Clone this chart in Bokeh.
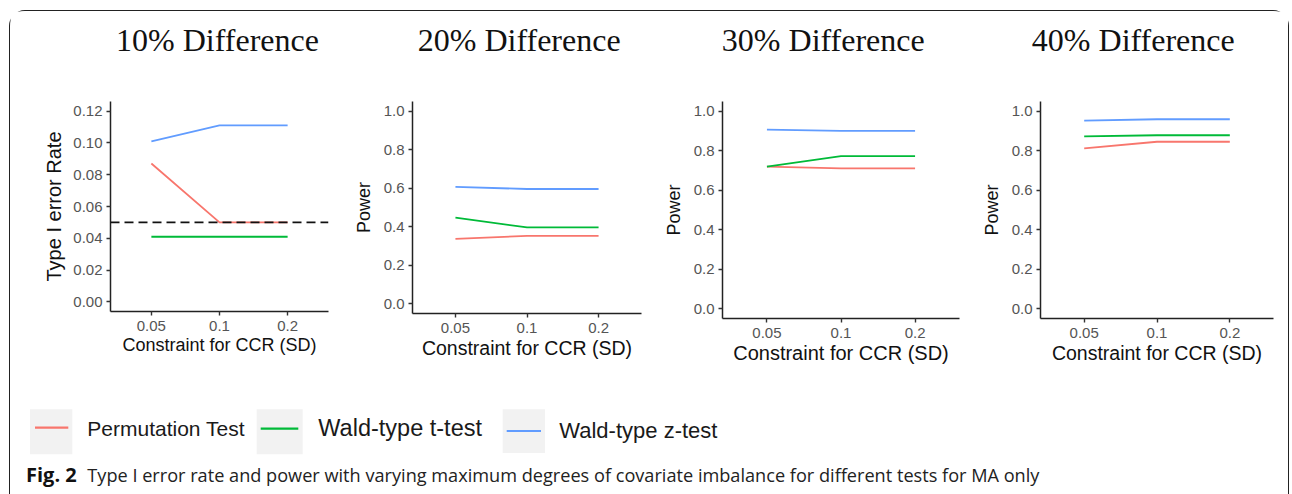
from bokeh.plotting import figure
from bokeh.layouts import row, column
from bokeh.models import Span, FixedTicker, Range1d, ColumnDataSource, NumeralTickFormatter
from bokeh.embed import file_html
from bokeh.resources import INLINE
from bokeh.core.properties import value

# ---------------- data ----------------
constraints = ["0.05", "0.1", "0.2"]
panel_titles = ["10% Difference", "20% Difference", "30% Difference", "40% Difference"]
y_labels = ["Type I error Rate", "Power", "Power", "Power"]
x_label = "Constraint for CCR (SD)"
series_names = ["Permutation Test", "Wald-type t-test", "Wald-type z-test"]
series_colors = ["#F8766D", "#00BA38", "#619CFF"]

# one list per panel (10%, 20%, 30%, 40% difference)
permutation_test = [[0.087, 0.050, 0.050], [0.337, 0.353, 0.353], [0.720, 0.711, 0.711], [0.812, 0.846, 0.846]]
wald_t_test = [[0.041, 0.041, 0.041], [0.447, 0.397, 0.397], [0.720, 0.773, 0.773], [0.873, 0.879, 0.879]]
wald_z_test = [[0.101, 0.111, 0.111], [0.607, 0.596, 0.596], [0.907, 0.901, 0.901], [0.953, 0.960, 0.960]]
nominal_alpha = 0.05

type1_ticks = [0.00, 0.02, 0.04, 0.06, 0.08, 0.10, 0.12]
power_ticks = [0.0, 0.2, 0.4, 0.6, 0.8, 1.0]

caption_bold = "Fig. 2"
caption_text = "Type I error rate and power with varying maximum degrees of covariate imbalance for different tests for MA only"

# ---------------- layout ----------------
TOTAL_W = 1278
TITLE_H = 60
BOT_H = 106

panel_geom = [
    dict(w=340, h=310, l=100, r=22, ylab="20px", xlab="18px", ystand=5),
    dict(w=310, h=312, l=62, r=19, ylab="18px", xlab="19.5px", ystand=7),
    dict(w=318, h=317, l=62, r=19, ylab="18px", xlab="20px", ystand=7),
    dict(w=310, h=317, l=61, r=15, ylab="18px", xlab="19.5px", ystand=7),
]

xpos = [i + 1 for i in range(len(constraints))]
all_series = [permutation_test, wald_t_test, wald_z_test]

# ---------------- title strip ----------------
tfig = figure(width=TOTAL_W, height=TITLE_H, x_range=Range1d(0, TOTAL_W), y_range=Range1d(TITLE_H, 0),
              output_backend="svg", toolbar_location=None, min_border=0,
              x_axis_type=None, y_axis_type=None)
tfig.outline_line_color = None
tfig.grid.visible = False
tfig.border_fill_color = None
title_x = [207, 508.7, 812.8, 1122.8]
title_y = [28.8] * 4
tfig.text(x=title_x, y=title_y, text=panel_titles, text_font=value("Liberation Serif"),
          text_font_size="32px", text_color="#111111", text_align="center", text_baseline="middle")

# ---------------- panels ----------------
panels = []
for k in range(4):
    g = panel_geom[k]
    if k == 0:
        yr = Range1d(-0.006, 0.126)
        ticks = type1_ticks
        fmt = "0.00"
    else:
        yr = Range1d(-0.05, 1.05)
        ticks = power_ticks
        fmt = "0.0"
    p = figure(width=g["w"], height=g["h"], x_range=Range1d(0.4, 3.6), y_range=yr,
               output_backend="svg", toolbar_location=None,
               min_border_left=g["l"], min_border_right=g["r"],
               min_border_top=30, min_border_bottom=70)
    p.outline_line_color = None
    p.grid.visible = False
    p.background_fill_color = "white"
    p.border_fill_color = None

    for s, col in zip(all_series, series_colors):
        p.line(xpos, s[k], line_color=col, line_width=1.8)
    if k == 0:
        p.add_layout(Span(location=nominal_alpha, dimension="width", line_color="#111111",
                          line_dash="9 5", line_width=1.6))

    for ax in (p.xaxis[0], p.yaxis[0]):
        ax.axis_line_color = "#222222"
        ax.axis_line_width = 1.5
        ax.major_tick_line_color = "#333333"
        ax.major_tick_line_width = 1.4
        ax.major_tick_out = 4
        ax.major_tick_in = 0
        ax.minor_tick_line_color = None
        ax.major_label_text_font = "Liberation Sans"
        ax.major_label_text_font_size = "15px"
        ax.major_label_text_color = "#555555"
        ax.axis_label_text_font = "Liberation Sans"
        ax.axis_label_text_font_style = "normal"
        ax.axis_label_text_color = "#111111"

    p.xaxis.ticker = FixedTicker(ticks=xpos)
    p.xaxis.major_label_overrides = {x: c for x, c in zip(xpos, constraints)}
    p.xaxis.axis_label = x_label
    p.xaxis.axis_label_text_font_size = g["xlab"]
    p.xaxis.major_label_standoff = 5
    p.xaxis.axis_label_standoff = 1

    p.yaxis.ticker = FixedTicker(ticks=ticks)
    p.yaxis.formatter = NumeralTickFormatter(format=fmt)
    p.yaxis.axis_label = y_labels[k]
    p.yaxis.axis_label_text_font_size = g["ylab"]
    p.yaxis.major_label_standoff = 4
    p.yaxis.axis_label_standoff = g["ystand"]
    panels.append(p)

# ---------------- legend + caption strip ----------------
q = figure(width=TOTAL_W, height=BOT_H, x_range=Range1d(0, TOTAL_W), y_range=Range1d(BOT_H, 0),
           output_backend="svg", toolbar_location=None, min_border=0,
           x_axis_type=None, y_axis_type=None)
q.outline_line_color = None
q.grid.visible = False
q.border_fill_color = None

key_left = [19.5, 246.2, 492.2]
key_right = [61.8, 292.2, 534.5]
key_top = [20.8, 20.8, 20.8]
key_bottom = [65.8, 65.8, 64.5]
line_x0 = [24.5, 250.2, 496.2]
line_x1 = [57.8, 287.8, 530.5]
line_y = [39.2, 40.2, 42.5]
text_x = [76.8, 307.8, 548.8]
text_y = [39.7, 39.8, 42.1]
text_sizes = ["21px", "23.5px", "22px"]

q.quad(left=key_left, right=key_right, top=key_top, bottom=key_bottom,
       fill_color="#F2F2F2", line_color=None)
for i in range(3):
    q.line([line_x0[i], line_x1[i]], [line_y[i], line_y[i]],
           line_color=series_colors[i], line_width=2.2)
lsrc = ColumnDataSource(dict(x=text_x, y=text_y, t=series_names, fs=text_sizes))
q.text(x="x", y="y", text="t", source=lsrc, text_font=value("Liberation Sans"),
       text_font_size="fs", text_color="#1a1a1a", text_baseline="middle", text_align="left")

q.text(x=[15.5], y=[86.1], text=[caption_bold], text_font=value("Open Sans"), text_font_style="bold",
       text_font_size="20px", text_color="#111111", text_baseline="middle")
q.text(x=[76.8], y=[86.8], text=[caption_text], text_font=value("Open Sans"),
       text_font_size="18.15px", text_color="#222222", text_baseline="middle")

layout = column(tfig, row(*panels, spacing=0), q, spacing=0,
                styles={"border": "1.5px solid #222222", "border-bottom": "none",
                        "border-radius": "16px 16px 0 0", "margin-left": "9px", "margin-top": "10px"})

open("out.html", "w").write(file_html(layout, INLINE))
